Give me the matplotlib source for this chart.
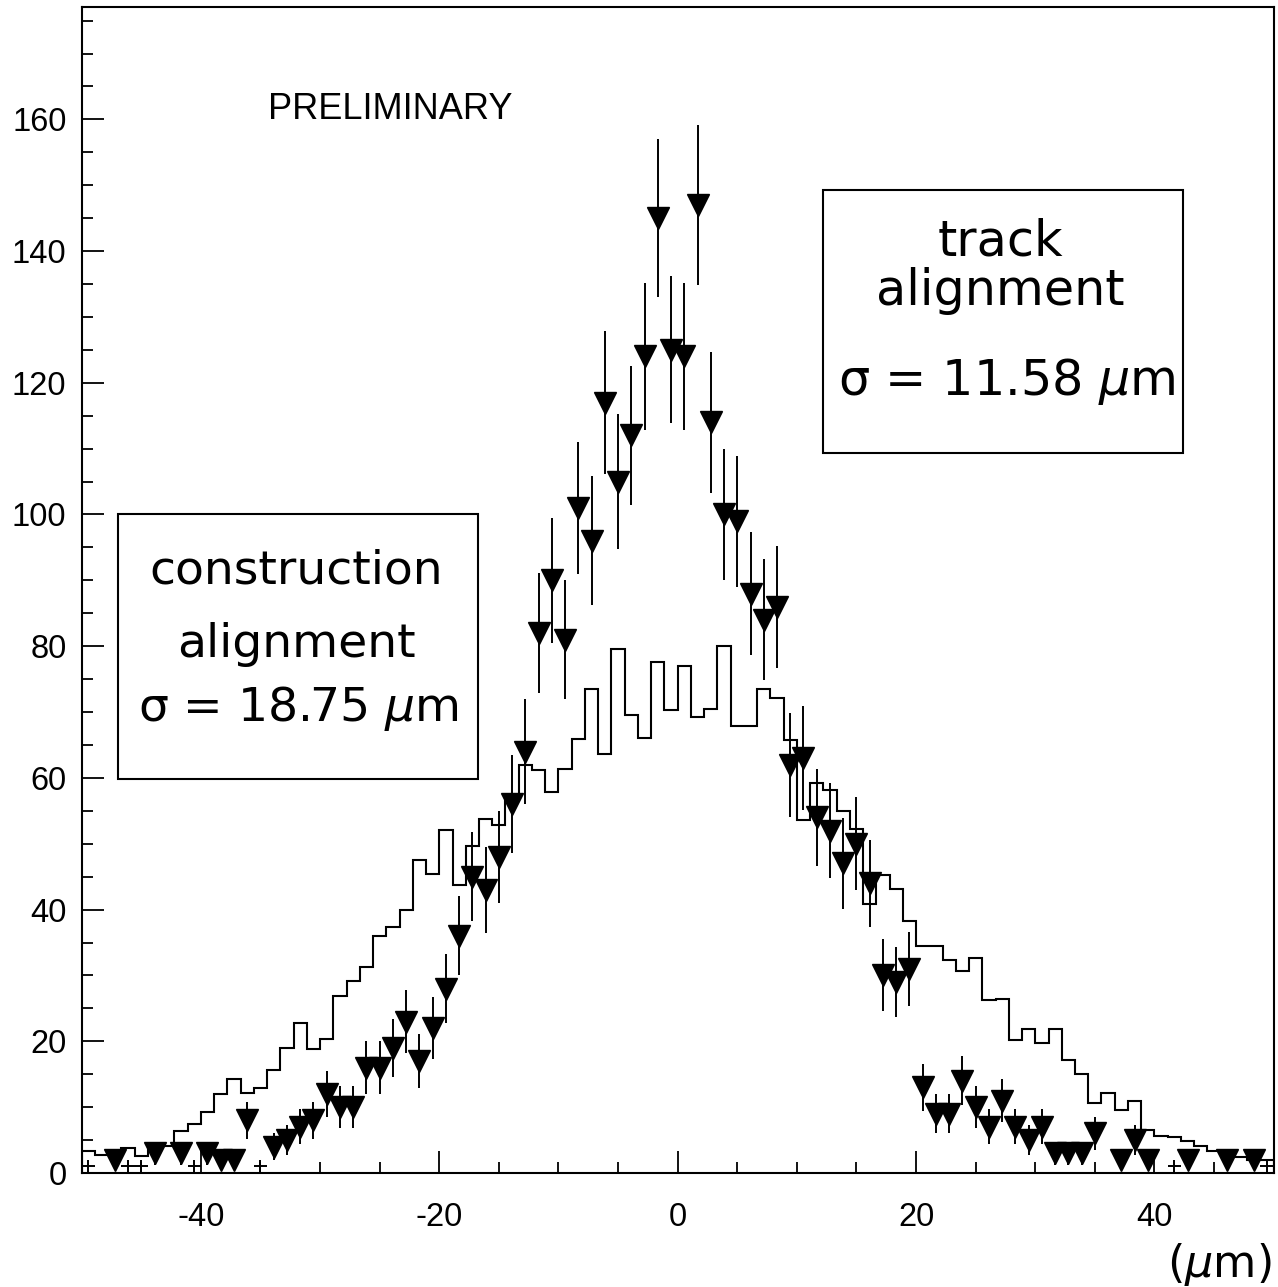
import numpy as np
import matplotlib
matplotlib.use('Agg')
from matplotlib import pyplot as plt
from matplotlib.patches import Rectangle

plt.rcParams['font.family'] = ['Liberation Sans', 'DejaVu Sans']
plt.rcParams['mathtext.fontset'] = 'dejavusans'
plt.rcParams['axes.unicode_minus'] = False

# binning of both distributions (microns)
x_lo, x_hi, n_bins = -50.0, 50.0, 90

# construction alignment: histogram, normalised to the track sample
construction = [3.3, 2.8, 2.8, 3.8, 2.6, 4.1, 4.1, 6.4, 7.5, 9.2,
                12.0, 14.2, 12.2, 12.9, 15.7, 19.0, 22.8, 18.8, 20.3, 26.8,
                29.2, 31.3, 36.0, 37.3, 39.9, 47.5, 45.4, 52.1, 43.7, 49.6,
                53.7, 52.9, 57.3, 62.0, 61.2, 57.9, 61.3, 65.9, 73.5, 63.7,
                79.6, 69.5, 66.0, 77.6, 70.3, 77.0, 69.3, 70.4, 80.1, 67.9,
                67.9, 73.5, 72.1, 65.8, 53.6, 59.2, 58.1, 54.9, 52.3, 40.9,
                45.3, 43.2, 38.2, 34.5, 34.5, 32.3, 30.6, 32.7, 26.2, 26.4,
                20.2, 21.9, 19.8, 21.9, 17.2, 15.1, 10.6, 12.2, 9.6, 11.0,
                6.6, 5.6, 5.4, 4.9, 4.1, 3.3, 3.2, 2.5, 1.9, 1.9]

# track alignment: entries per bin
track = [1, 0, 2, 1, 1, 3, 0, 3, 1, 3,
         2, 2, 8, 1, 4, 5, 7, 8, 12, 10,
         10, 16, 16, 19, 23, 17, 22, 28, 36, 45,
         43, 48, 56, 64, 82, 90, 81, 101, 96, 117,
         105, 112, 124, 145, 125, 124, 147, 114, 100, 99,
         88, 84, 86, 62, 63, 54, 52, 47, 50, 44,
         30, 29, 31, 13, 9, 9, 14, 10, 7, 11,
         7, 5, 7, 3, 3, 3, 6, 0, 2, 5,
         2, 0, 1, 2, 0, 0, 2, 0, 2, 1]

edges = np.linspace(x_lo, x_hi, n_bins + 1)
centers = 0.5 * (edges[:-1] + edges[1:])
half = 0.5 * (edges[1] - edges[0])
counts = np.array(track, dtype=float)

fig = plt.figure(figsize=(12.78, 12.87), dpi=100)
ax = fig.add_axes([0.0639, 0.0886, 0.9327, 0.9056])

ax.stairs(construction, edges, color='black', lw=1.5)

# single entries: plain cross (marker would leave the frame)
one = counts == 1
ax.errorbar(centers[one], counts[one], xerr=half, yerr=np.sqrt(counts[one]),
            fmt='none', ecolor='black', elinewidth=1.4, capsize=0)
many = counts >= 2
ax.errorbar(centers[many], counts[many], yerr=np.sqrt(counts[many]),
            fmt='v', color='black', ms=15.5, elinewidth=1.4, capsize=0)

ax.set_xlim(x_lo, x_hi)
ax.set_ylim(0, 177)
ax.set_xticks([-40, -20, 0, 20, 40])
ax.set_xticks(np.arange(-45, 50, 5), minor=True)
ax.set_yticks(np.arange(0, 161, 20))
ax.set_yticks(np.arange(5, 177, 5), minor=True)
ax.tick_params(which='both', direction='in', top=False, right=False,
               width=1.3, labelsize=23.5)
ax.tick_params(which='major', length=16)
ax.tick_params(which='minor', length=8)
ax.tick_params(axis='x', pad=21)
ax.tick_params(axis='y', pad=11)
for s in ax.spines.values():
    s.set_linewidth(1.5)

ax.text(-34.4, 161.5, 'PRELIMINARY', fontsize=26, ha='left', va='center')

left_font = dict(fontsize=34, ha='center', va='baseline', family=['DejaVu Sans'])
ax.add_patch(Rectangle((-46.95, 59.9), 30.2, 40.1, fill=False, lw=1.5))
ax.text(-32.0, 89.5, 'construction', **left_font)
ax.text(-32.0, 78.3, 'alignment', **left_font)
ax.text(-31.8, 68.7, r'σ = 18.75 $\mu$m', **left_font)

right_font = dict(fontsize=35.5, ha='center', va='baseline', family=['DejaVu Sans'])
ax.add_patch(Rectangle((12.2, 109.4), 30.2, 39.9, fill=False, lw=1.5))
ax.text(27.1, 139.3, 'track', **right_font)
ax.text(27.1, 131.8, 'alignment', **right_font)
ax.text(27.6, 118.1, r'σ = 11.58 $\mu$m', **right_font)

fig.text(1219 / 1278, 1 - 1265 / 1287, r'($\mu$m)', fontsize=32,
         ha='center', va='center', family=['DejaVu Sans'])

fig.savefig('out.png', dpi=100)
